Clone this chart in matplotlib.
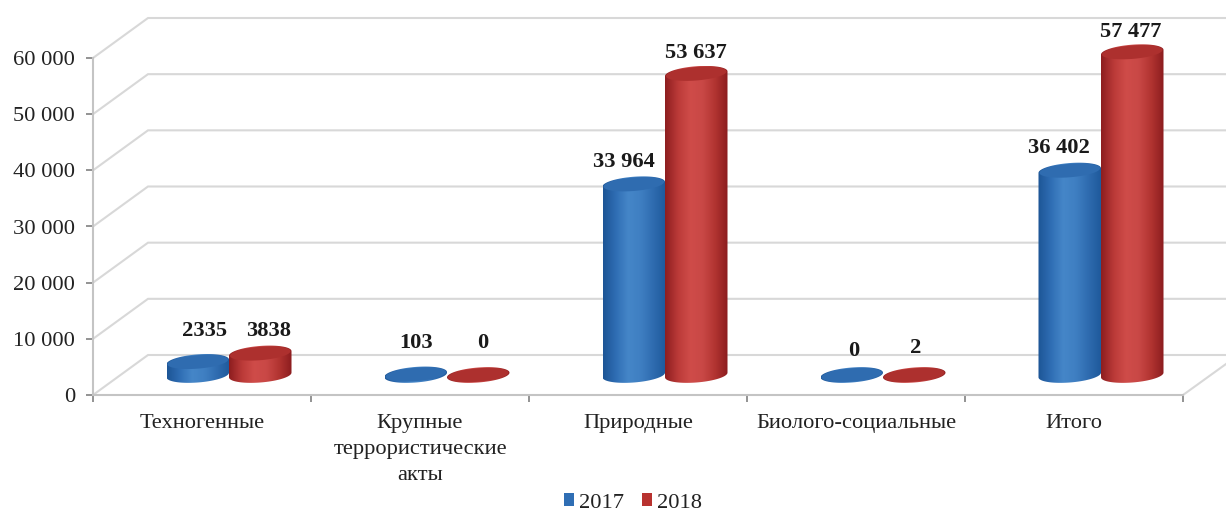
import numpy as np
import matplotlib
matplotlib.use("Agg")
import matplotlib.pyplot as plt
from matplotlib.patches import Patch, Polygon
from matplotlib.colors import LinearSegmentedColormap

categories = ["Техногенные", "Крупные\nтеррористические\nакты", "Природные",
              "Биолого-социальные", "Итого"]
values_2017 = [2335, 103, 33964, 0, 36402]
values_2018 = [3838, 0, 53637, 2, 57477]
y_ticks = [0, 10000, 20000, 30000, 40000, 50000, 60000]
y_tick_labels = ["0", "10 000", "20 000", "30 000", "40 000", "50 000", "60 000"]
series_names = ["2017", "2018"]

plt.rcParams["font.family"] = ["Liberation Serif", "DejaVu Serif"]
W, H = 1226, 514
X0, Y0, CAT_PX = 93, 395, 218
PX_V = 60000 / 337          # value units per pixel
FS = 16.2

fig = plt.figure(figsize=(W / 100, H / 100), dpi=100, facecolor="white")
ax = fig.add_axes([X0 / W, (H - Y0) / H, (W - X0) / W, Y0 / H])
xmax = (W - X0) / CAT_PX
ymax = Y0 * PX_V

DX, DY = 55 / CAT_PX, 40 * PX_V       # depth of the pseudo-3D floor
FLOOR = 20 * PX_V                     # bars stand mid-floor
BW = 62.5 / CAT_PX                    # bar width
EB = 7.5 * PX_V                       # ellipse half height
TILT = 0.075 * PX_V * CAT_PX          # slope of ellipses in data units

grid_c = "#d8d8d8"
for v in y_ticks:
    ax.plot([0, DX, xmax], [v, v + DY, v + DY], color=grid_c, lw=1.5, zorder=1,
            clip_on=False, solid_joinstyle="miter")
ax.plot([5, 5 + (W - 1183) / CAT_PX], [0, 31 * PX_V], color=grid_c, lw=1.5, zorder=1,
        clip_on=False)

cm_blue = LinearSegmentedColormap.from_list(
    "b", ["#1d5596", "#2f6eb4", "#4586c8", "#3f7fc2", "#2f6cb0", "#1f5a9c"])
cm_red = LinearSegmentedColormap.from_list(
    "r", ["#8e1e20", "#bb3a38", "#cf4c49", "#c94846", "#b23431", "#8c1d1f"])
cap_cols = ["#2f6cb0", "#ad302e"]


def cylinder(cx, value, cmap, cap, z):
    a = BW / 2
    top = FLOOR + value
    t1 = np.linspace(np.pi, 2 * np.pi, 40)
    t2 = np.linspace(0, np.pi, 40)
    xs = np.r_[cx + a * np.cos(t1), cx + a * np.cos(t2)]
    ys = np.r_[FLOOR + EB * np.sin(t1) + TILT * a * np.cos(t1),
               top + EB * np.sin(t2) + TILT * a * np.cos(t2)]
    shape = Polygon(np.c_[xs, ys], closed=True, transform=ax.transData,
                    fc="none", ec="none")
    ax.add_patch(shape)
    im = ax.imshow(np.linspace(0, 1, 64).reshape(1, -1), cmap=cmap, aspect="auto",
                   extent=[cx - a, cx + a, ys.min(), ys.max()], zorder=z,
                   interpolation="bilinear")
    im.set_clip_path(shape)
    t = np.linspace(0, 2 * np.pi, 80)
    ax.fill(cx + a * 0.97 * np.cos(t),
            top + EB * 0.9 * np.sin(t) + TILT * a * np.cos(t),
            color=cap, lw=0, zorder=z + 0.1)


centers = np.arange(len(categories)) + 0.5 + 27 / CAT_PX
label_dx_2017 = [7, 0, -10, 2, -11]
label_dx_2018 = [8, 4, 0, 1, -2]
label_dy_2017 = [31, 31, 22, 24, 23]
label_dy_2018 = [22, 32, 21, 27, 20]


def lab(v):
    s = f"{v:,}".replace(",", " ")
    return s if v >= 10000 else str(v)


for i, c in enumerate(centers):
    cylinder(c - BW / 2, values_2017[i], cm_blue, cap_cols[0], 3)
    cylinder(c + BW / 2, values_2018[i], cm_red, cap_cols[1], 4)
    for cx, v, dx, dy in [(c - BW / 2, values_2017[i], label_dx_2017[i], label_dy_2017[i]),
                          (c + BW / 2, values_2018[i], label_dx_2018[i], label_dy_2018[i])]:
        ax.annotate(lab(v), (cx, FLOOR + v), xytext=(dx * 0.72, dy * 0.72),
                    textcoords="offset points", ha="center", va="center",
                    fontsize=FS, fontweight="bold", color="#1a1a1a",
                    annotation_clip=False, zorder=6)

ax.set_xlim(0, xmax)
ax.set_ylim(0, ymax)
ax.patch.set_alpha(0)
for s in ["top", "right"]:
    ax.spines[s].set_visible(False)
ax.spines["left"].set_bounds(0, 60000)
ax.spines["bottom"].set_bounds(0, 5)
ax.spines["left"].set_color("#c4c4c4")
ax.spines["bottom"].set_color("#c4c4c4")
ax.spines["left"].set_linewidth(1.5)
ax.spines["bottom"].set_linewidth(1.5)

ax.set_yticks(y_ticks)
ax.set_yticklabels(y_tick_labels, fontsize=FS, color="#222222")
ax.tick_params(axis="y", length=5, width=1.2, color="#808080", pad=8)
ax.set_xticks(np.arange(6))
ax.set_xticklabels([])
ax.set_xticks(np.arange(len(categories)) + 0.5, minor=True)
ax.set_xticklabels(categories, minor=True, fontsize=FS, color="#222222", linespacing=1.5)
ax.tick_params(axis="x", which="major", length=5, width=1.2, color="#808080")
ax.tick_params(axis="x", which="minor", length=0, pad=14)

handles = [Patch(fc="#2f6eb4", ec="none"), Patch(fc="#b8322f", ec="none")]
fig.legend(handles, series_names, ncol=2, frameon=False, fontsize=FS,
           loc="center", bbox_to_anchor=(633 / W, 1 - 503 / H),
           handlelength=0.45, handleheight=0.5, handletextpad=0.22, columnspacing=0.8,
           borderpad=0, labelcolor="#222222")

fig.savefig("out.png", dpi=100, facecolor="white")
